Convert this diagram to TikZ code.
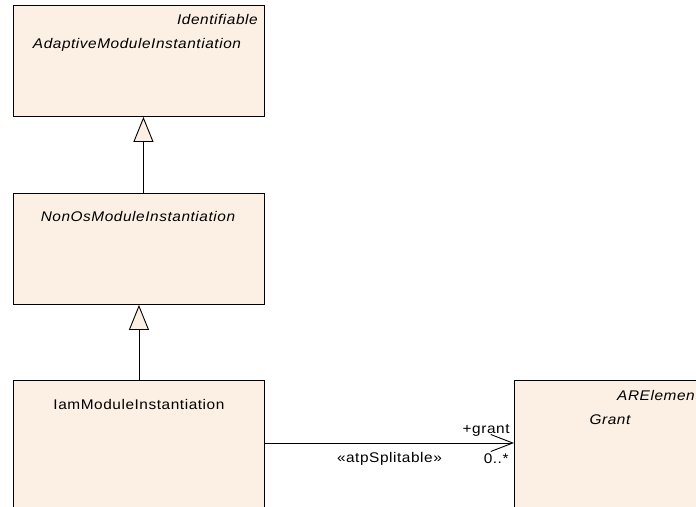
\documentclass[tikz,border=0pt]{standalone}
\usepackage{fontspec}
\setmainfont{Liberation Sans}
\newfontfamily\umlfont[FakeStretch=1.1,LetterSpace=4]{Liberation Sans}
\usetikzlibrary{arrows.meta,positioning}
\definecolor{umlfill}{RGB}{251,240,227}

\begin{document}
\begin{tikzpicture}[x=1pt, y=-1pt,
  cls/.style={draw, fill=umlfill, line width=0.9pt, anchor=north west,
              minimum width=251pt, minimum height=111pt, inner sep=0pt},
  lbl/.style={font={\umlfont\fontsize{14}{16}\selectfont}, inner sep=0pt},
  ilbl/.style={lbl, font={\umlfont\itshape\fontsize{14}{16}\selectfont}},
  gen/.style={line width=0.9pt, -{Triangle[length=25pt, width=20pt, fill=umlfill]}},
  assoc/.style={line width=0.9pt, -{Straight Barb[length=22pt, width=17pt]}},
]
\clip (0,0) rectangle (696,506);
% class boxes
\node[cls] (adaptive) at (13,5) {};
\node[cls] (nonos)    at (13,193) {};
\node[cls, minimum height=160pt] (iam)   at (13,380) {};
\node[cls, minimum width=200pt, minimum height=160pt] (grant) at (514,380) {};
% class names
\node[ilbl, anchor=east] (adaptiveSt) at ([xshift=-7pt, yshift=-14pt]adaptive.north east) {Identifiable};
\node[ilbl] (adaptiveT) at ([xshift=-2pt, yshift=-40pt]adaptive.north) {AdaptiveModuleInstantiation};
\node[ilbl] (nonosT)    at ([xshift=-1pt, yshift=-23pt]nonos.north) {NonOsModuleInstantiation};
\node[lbl]  (iamT)      at ([yshift=-24pt]iam.north) {IamModuleInstantiation};
\node[ilbl, anchor=west] (grantSt) at ([xshift=103pt, yshift=-15pt]grant.north west) {ARElement};
\node[ilbl] (grantT)    at ([xshift=96pt, yshift=-40pt]grant.north west) {Grant};
% generalizations
\draw[gen] ([xshift=4.5pt]nonos.north) -- ([xshift=4.5pt]adaptive.south);
\draw[gen] (iam.north) -- (nonos.south);
% association
\draw[assoc] ([yshift=-63pt]iam.north east) -- ([yshift=-63pt]grant.north west)
  node[lbl, midway, below=9pt] (assocSt) {«atpSplitable»}
  node[lbl, pos=1, anchor=south east, xshift=-4pt, yshift=6pt] (grantRole) {+grant}
  node[lbl, pos=1, anchor=north east, xshift=-5pt, yshift=-10pt] (grantMult) {0..*};
\end{tikzpicture}
\end{document}
